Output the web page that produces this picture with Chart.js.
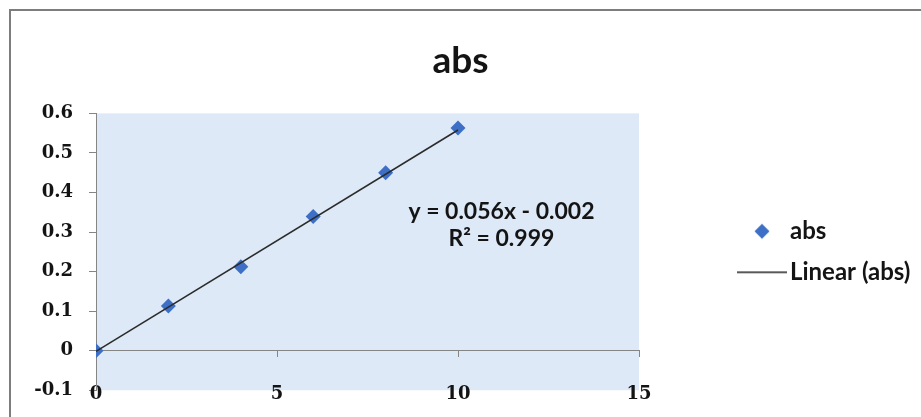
<!DOCTYPE html>
<html>
<head>
<meta charset="utf-8">
<script src="https://cdn.jsdelivr.net/npm/chart.js@4.4.1/dist/chart.umd.min.js"></script>
<style>
  html, body { margin: 0; padding: 0; background: #ffffff; }
  #wrap { position: relative; width: 921px; height: 417px; overflow: hidden; }
  #frame { position: absolute; left: 9px; top: 9px; width: 1000px; height: 1000px;
           border-left: 2px solid #7d7d7d; border-top: 2px solid #7d7d7d; }
  canvas { position: absolute; left: 0; top: 0; }
</style>
</head>
<body>
<div id="wrap"><div id="frame"></div><canvas id="c" width="921" height="417"></canvas></div>
<script>
// ---- data ----
const chartTitle = 'abs';
const seriesName = 'abs';
const trendName = 'Linear (abs)';
const concentrations = [0, 2, 4, 6, 8, 10];
const absValues = [0, 0.113, 0.212, 0.339, 0.450, 0.563];
const trendX = [0, 10];
const trendY = [-0.002, 0.558];
const xTickValues = [0, 5, 10, 15];
const xTickLabels = ['0', '5', '10', '15'];
const yTickValues = [-0.1, 0, 0.1, 0.2, 0.3, 0.4, 0.5, 0.6];
const yTickLabels = ['-0.1', '0', '0.1', '0.2', '0.3', '0.4', '0.5', '0.6'];
const equationLines = ['y = 0.056x - 0.002', 'R\u00B2 = 0.999'];

// ---- styles / layout ----
const BLUE = '#3d6fc6';
const AXIS_GREY = '#858585';
const TEXT = '#141414';
const PLOT_BG = '#dde9f6';
const TICK_FONT = { family: 'DejaVu Serif', size: 18, weight: 'bold' };
const LEG_FONT = { family: 'Lato', size: 24, weight: 'bold' };
const EQ_FONT = 'bold 23px Lato';
const eqAnchor = { x: 11.2, y: 0.352, lineGap: 27 };
const LEG_BOX = 122;          // legend symbol slot width
const LEG_PAD = 17;
const LEGEND_WIDTH = 282;     // space right of the plot area (921 - 639)
const Y_AXIS_WIDTH = 96;

function legendIcon(kind) {
  const c = document.createElement('canvas');
  c.width = LEG_BOX + 24; c.height = 20;
  const g = c.getContext('2d');
  const cx = LEG_BOX - 4, cy = 10;
  if (kind === 'diamond') {
    g.fillStyle = BLUE;
    g.beginPath();
    g.moveTo(cx - 7.5, cy); g.lineTo(cx, cy - 7.5); g.lineTo(cx + 7.5, cy); g.lineTo(cx, cy + 7.5);
    g.closePath(); g.fill();
  } else {
    g.strokeStyle = '#222222'; g.lineWidth = 1.5;
    g.beginPath(); g.moveTo(cx - 25, cy); g.lineTo(cx + 25, cy); g.stroke();
  }
  return c;
}
const iconDiamond = legendIcon('diamond');
const iconLine = legendIcon('line');

// give the legend a fixed width (gap between plot area and legend, as in the original)
const legendWidthPlugin = {
  id: 'legendWidth',
  beforeLayout(chart) {
    const lg = chart.legend;
    if (lg && !lg.__fixedWidth) {
      const orig = lg.fit;
      lg.fit = function () { orig.call(this); this.width = LEGEND_WIDTH; };
      lg.__fixedWidth = true;
    }
  }
};

const bgPlugin = {
  id: 'plotBg',
  beforeDraw(chart) {
    const a = chart.chartArea, g = chart.ctx;
    g.save(); g.fillStyle = PLOT_BG;
    g.fillRect(a.left, a.top, a.right - a.left, a.bottom - a.top);
    g.restore();
  }
};

const eqPlugin = {
  id: 'equation',
  afterDraw(chart) {
    const g = chart.ctx;
    const px = chart.scales.x.getPixelForValue(eqAnchor.x);
    const py = chart.scales.y.getPixelForValue(eqAnchor.y);
    g.save();
    g.font = EQ_FONT; g.fillStyle = TEXT; g.textAlign = 'center'; g.textBaseline = 'middle';
    equationLines.forEach((t, i) => g.fillText(t, px, py + i * eqAnchor.lineGap));
    g.restore();
  }
};

new Chart(document.getElementById('c'), {
  type: 'scatter',
  data: {
    datasets: [
      {
        label: seriesName,
        data: concentrations.map((x, i) => ({ x: x, y: absValues[i] })),
        pointStyle: 'rectRot', pointRadius: 7.5, pointHoverRadius: 7.5,
        backgroundColor: BLUE, borderColor: BLUE, borderWidth: 0,
        showLine: false, order: 1
      },
      {
        label: trendName, type: 'line',
        data: trendX.map((x, i) => ({ x: x, y: trendY[i] })),
        borderColor: '#2b2b2b', borderWidth: 1.5, pointRadius: 0, pointHoverRadius: 0,
        fill: false, tension: 0, order: 0
      }
    ]
  },
  options: {
    responsive: false, animation: false, devicePixelRatio: 1,
    layout: { padding: { left: 0, right: 0, top: 0, bottom: 20 } },
    plugins: {
      tooltip: { enabled: false },
      title: {
        display: true, text: chartTitle, color: TEXT,
        font: { family: 'Lato', size: 37, weight: 'bold' },
        padding: { top: 39, bottom: 30 }
      },
      legend: {
        display: true, position: 'right', fullSize: false, align: 'center',
        labels: {
          usePointStyle: true, pointStyleWidth: LEG_BOX, padding: LEG_PAD,
          font: LEG_FONT, color: TEXT,
          generateLabels: () => [
            { text: seriesName, pointStyle: iconDiamond, fillStyle: BLUE, strokeStyle: BLUE, lineWidth: 0, hidden: false, datasetIndex: 0, fontColor: TEXT },
            { text: trendName, pointStyle: iconLine, fillStyle: '#222', strokeStyle: '#222', lineWidth: 0, hidden: false, datasetIndex: 1, fontColor: TEXT }
          ]
        }
      }
    },
    scales: {
      x: {
        type: 'linear', axis: 'x', position: { y: 0 }, min: 0, max: 15,
        afterBuildTicks: s => { s.ticks = xTickValues.map(v => ({ value: v })); },
        ticks: { callback: (v, i) => xTickLabels[i], font: TICK_FONT, color: TEXT, padding: 27, maxRotation: 0, autoSkip: false },
        grid: { drawOnChartArea: false, drawTicks: true, tickLength: 6, color: AXIS_GREY },
        border: { display: true, color: AXIS_GREY, width: 1 }
      },
      y: {
        type: 'linear', position: 'left', min: -0.1, max: 0.6,
        afterBuildTicks: s => { s.ticks = yTickValues.map(v => ({ value: v })); },
        afterFit: s => { s.width = Y_AXIS_WIDTH; },
        ticks: { callback: (v, i) => yTickLabels[i], font: TICK_FONT, color: TEXT, padding: 16, autoSkip: false },
        grid: { drawOnChartArea: false, drawTicks: true, tickLength: 7, color: AXIS_GREY },
        border: { display: true, color: AXIS_GREY, width: 1 }
      }
    }
  },
  plugins: [legendWidthPlugin, bgPlugin, eqPlugin]
});
</script>
</body>
</html>
